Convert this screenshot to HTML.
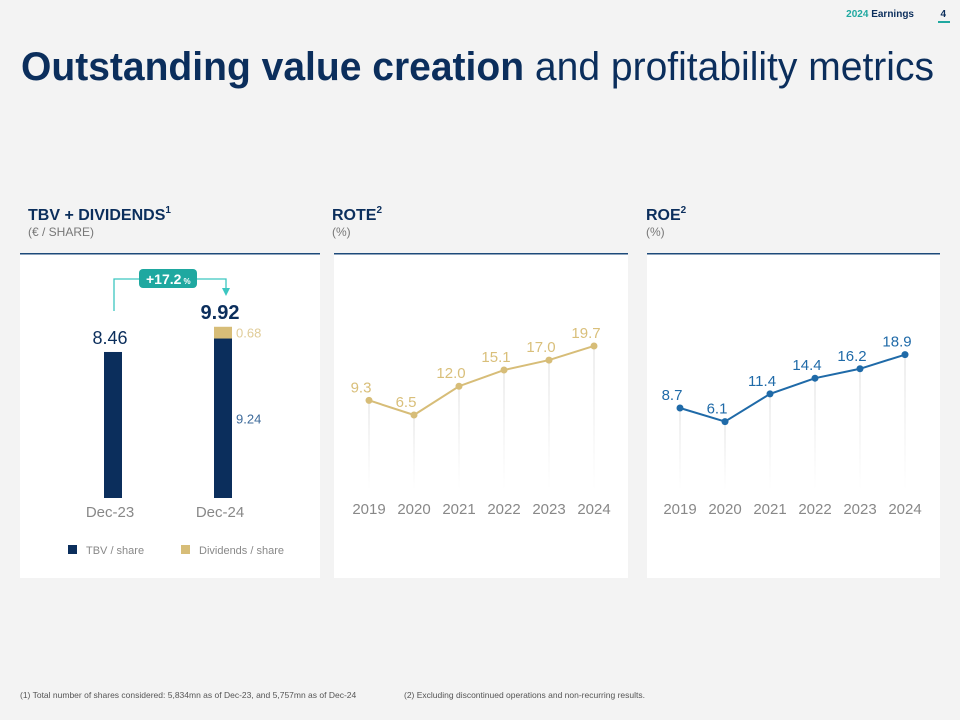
<!DOCTYPE html>
<html><head><meta charset="utf-8"><style>
body{margin:0;background:#f3f3f3;}
svg{display:block;font-family:"Liberation Sans",sans-serif;}
</style></head><body>
<svg width="960" height="720" viewBox="0 0 960 720">
<rect x="0" y="0" width="960" height="720" fill="#f3f3f3"/>
<text x="914" y="17" font-size="10" text-anchor="end"><tspan fill="#1fa8a0" font-weight="bold">2024</tspan><tspan fill="#0b2e5c" font-weight="bold"> Earnings</tspan></text>
<text x="946" y="17" font-size="10" font-weight="bold" fill="#0b2e5c" text-anchor="end">4</text>
<rect x="938" y="21" width="12" height="2" fill="#1fa8a0"/>
<text x="21" y="80" font-size="40" fill="#0b2e5c" textLength="913" lengthAdjust="spacingAndGlyphs"><tspan font-weight="bold">Outstanding value creation</tspan> and profitability metrics</text>

<text x="28" y="220" font-size="16" font-weight="bold" fill="#0b2e5c">TBV + DIVIDENDS<tspan font-size="10" dy="-7">1</tspan></text>
<text x="28" y="236" font-size="12" fill="#777">(€ / SHARE)</text>
<text x="332" y="220" font-size="16" font-weight="bold" fill="#0b2e5c">ROTE<tspan font-size="10" dy="-7">2</tspan></text>
<text x="332" y="236" font-size="12" fill="#777">(%)</text>
<text x="646" y="220" font-size="16" font-weight="bold" fill="#0b2e5c">ROE<tspan font-size="10" dy="-7">2</tspan></text>
<text x="646" y="236" font-size="12" fill="#777">(%)</text>

<rect x="20" y="253" width="300" height="325" fill="#fff"/>
<rect x="334" y="253" width="294" height="325" fill="#fff"/>
<rect x="647" y="253" width="293" height="325" fill="#fff"/>
<rect x="20" y="253" width="300" height="1.5" fill="#1d4a7a"/>
<rect x="334" y="253" width="294" height="1.5" fill="#1d4a7a"/>
<rect x="647" y="253" width="293" height="1.5" fill="#1d4a7a"/>

<g id="bars"></g>
<g id="rote"></g>
<g id="roe"></g>

<text x="20" y="698" font-size="8.5" fill="#555">(1) Total number of shares considered: 5,834mn as of Dec-23, and 5,757mn as of Dec-24</text>
<text x="404" y="698" font-size="8.5" fill="#555">(2) Excluding discontinued operations and non-recurring results.</text>
</svg>
<script>
const barCats=["Dec-23","Dec-24"];
const tbvVals=[8.46,9.24];
const divVals=[0,0.68];
const totalLabels=["8.46","9.92"];
const growthLabel="+17.2";
const years=["2019","2020","2021","2022","2023","2024"];
const roteVals=[9.3,6.5,12.0,15.1,17.0,19.7];
const roeVals=[8.7,6.1,11.4,14.4,16.2,18.9];

const NS="http://www.w3.org/2000/svg";
function mk(parent,tag,attrs,txt){const e=document.createElementNS(NS,tag);for(const k in attrs)e.setAttribute(k,attrs[k]);if(txt!==undefined)e.textContent=txt;parent.appendChild(e);return e;}

// bars
const gb=document.getElementById('bars');
const bBase=498, bScale=17.26;
const bx=i=>113+i*110;
const by=v=>bBase-v*bScale;
barCats.forEach((c,i)=>{
  const t=mk(gb,'rect',{x:bx(i)-9,y:by(tbvVals[i]),width:18,height:tbvVals[i]*bScale,fill:'#0b2e5c'});
  
  
  if(divVals[i]>0){
    const d=mk(gb,'rect',{x:bx(i)-9,y:by(tbvVals[i]+divVals[i]),width:18,height:divVals[i]*bScale,fill:'#d7bd78'});
    
    
    const dl=mk(gb,'text',{x:bx(i)+13,y:by(tbvVals[i]+divVals[i]/2)+5,'font-size':13,fill:'#e0cc98'},divVals[i].toFixed(2));
    
    
    const tl=mk(gb,'text',{x:bx(i)+13,y:by(tbvVals[i]/2)+5,'font-size':13,fill:'#3d6a9a'},tbvVals[i].toFixed(2));
    
    
  }
  const top=by(tbvVals[i]+divVals[i]);
  const lb=mk(gb,'text',{x:bx(i)-3,y:top-8,'font-size':i==1?20:18,'font-weight':i==1?'bold':'normal','text-anchor':'middle',fill:'#0b2e5c'},totalLabels[i]);
  
  
  const xl=mk(gb,'text',{x:bx(i)-3,y:517,'font-size':15,'text-anchor':'middle',fill:'#888'},c);
  
  
});
const arr=mk(gb,'path',{d:'M114 311 V279 H226 V289',fill:'none',stroke:'#3cc6c0','stroke-width':1.3});


const ah=mk(gb,'path',{d:'M222 288 L230 288 L226 296 Z',fill:'#3cc6c0'});


const gbx=mk(gb,'rect',{x:139,y:269,width:58,height:19,rx:4,fill:'#1fa8a0'});


const gt=mk(gb,'text',{x:146,y:284,'font-size':14,'font-weight':'bold',fill:'#fff'});


gt.textContent=growthLabel;
mk(gt,'tspan',{'font-size':8,dx:2},'%');
// legend
const l1=mk(gb,'rect',{x:68,y:545,width:9,height:9,fill:'#0b2e5c'});


const l1t=mk(gb,'text',{x:86,y:554,'font-size':11,fill:'#888'},'TBV / share');


const l2=mk(gb,'rect',{x:181,y:545,width:9,height:9,fill:'#d7bd78'});


const l2t=mk(gb,'text',{x:199,y:554,'font-size':11,fill:'#888'},'Dividends / share');



function lineChart(id,vals,x0,base,color,labelColor,name){
  const g=document.getElementById(id);
  const sc=5.23;
  const X=i=>x0+i*45;
  const Y=v=>base-v*sc;
  const defs=mk(g,'defs',{});
  const lg=mk(defs,'linearGradient',{id:id+'grad',x1:0,y1:0,x2:0,y2:1});
  mk(lg,'stop',{offset:0,'stop-color':'#ddd','stop-opacity':1});
  mk(lg,'stop',{offset:1,'stop-color':'#ddd','stop-opacity':0});
  years.forEach((y,i)=>{
    const gl=mk(g,'rect',{x:X(i)-0.5,y:Y(vals[i]),width:1,height:490-Y(vals[i]),fill:'url(#'+id+'grad)'});
    
    
    const xl=mk(g,'text',{x:X(i),y:514,'font-size':15,'text-anchor':'middle',fill:'#888'},y);
    
    
  });
  const pl=mk(g,'polyline',{points:vals.map((v,i)=>X(i)+','+Y(v)).join(' '),fill:'none',stroke:color,'stroke-width':2});
  
  
  vals.forEach((v,i)=>{
    const c=mk(g,'circle',{cx:X(i),cy:Y(v),r:3.5,fill:color});
    
    
    const t=mk(g,'text',{x:X(i)-8,y:Y(v)-8,'font-size':15,'text-anchor':'middle',fill:labelColor},v.toFixed(1));
    
    
  });
}
lineChart('rote',roteVals,369,449,'#d7bd78','#d9bf7a','rote');
lineChart('roe',roeVals,680,453.5,'#1f6aa8','#1f6aa8','roe');
</script>
</body></html>
